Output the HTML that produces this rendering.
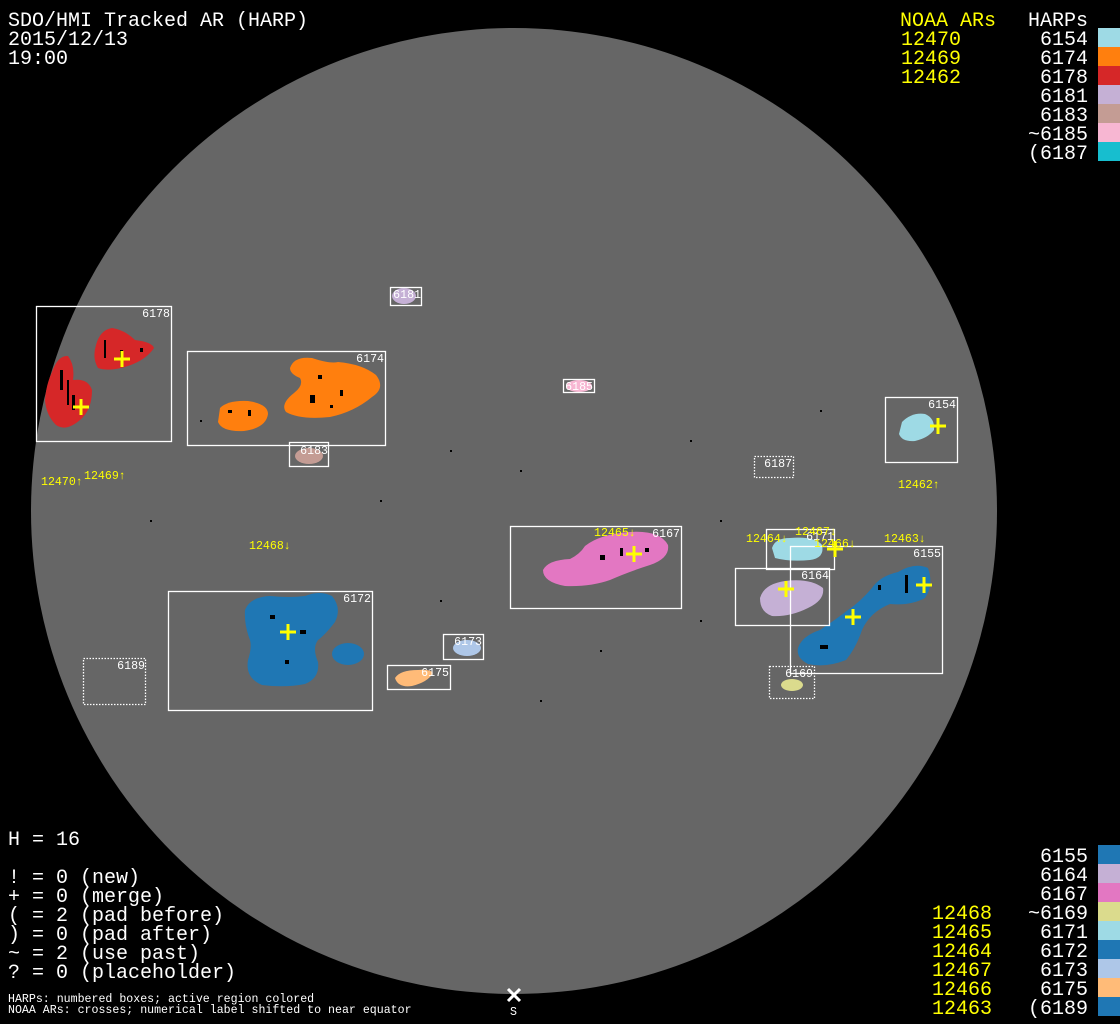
<!DOCTYPE html>
<html><head><meta charset="utf-8"><style>
html,body{margin:0;padding:0;background:#000;}
svg{display:block;}
text{font-family:"Liberation Mono","DejaVu Sans Mono",monospace;}
.t{fill:#fff;font-size:20px;}
.y{fill:#ffff00;font-size:20px;}
.bl{fill:#fff;font-size:11.6px;}
.yl{fill:#ffff00;font-size:11.6px;}
.b{fill:none;stroke:#fff;stroke-width:1.3;}
.d{fill:none;stroke:#fff;stroke-width:1.3;stroke-dasharray:1.5 1.5;}
.c{stroke:#ffff00;stroke-width:3;}
.k{fill:#000;}
</style></head><body>
<svg width="1120" height="1024" viewBox="0 0 1120 1024" xmlns="http://www.w3.org/2000/svg">
<rect width="1120" height="1024" fill="#000"/>
<circle cx="514" cy="511" r="483" fill="#666"/>

<path d="M96 345 Q100 330 112 328 Q125 330 135 340 Q152 342 154 348 Q146 360 128 366 Q110 372 98 368 Q92 358 96 345Z" fill="#d62728"/>
<path d="M52 372 Q58 355 68 356 Q75 365 73 380 Q88 378 92 390 Q92 410 80 420 Q66 432 56 425 Q46 415 45 400 Q46 385 52 372Z" fill="#d62728"/>
<path d="M220 408 Q228 400 248 401 Q268 404 268 414 Q266 428 244 431 Q222 432 218 422 Z" fill="#ff7f0e"/>
<path d="M290 368 Q294 356 312 358 Q330 364 338 362 Q362 364 376 375 Q386 388 372 397 Q354 412 330 417 Q300 420 286 412 Q280 404 294 393 Q304 385 300 378 Q290 374 290 368Z" fill="#ff7f0e"/>
<ellipse cx="309" cy="456" rx="14" ry="8" fill="#c49c94"/>
<ellipse cx="404" cy="296" rx="12" ry="8" fill="#c5b0d5"/>
<ellipse cx="579" cy="386" rx="13" ry="6" fill="#f7b6d2"/>
<path d="M902 422 Q912 412 925 414 Q935 418 934 430 Q928 438 915 441 Q902 442 899 434 Z" fill="#9edae5"/>
<path d="M543 570 Q548 560 570 559 Q580 554 585 546 Q600 534 630 532 Q660 530 668 545 Q670 558 650 565 Q628 572 610 580 Q590 587 565 586 Q543 582 543 570Z" fill="#e377c2"/>
<path d="M772 548 Q775 538 790 538 Q815 536 822 545 Q825 558 810 560 Q790 562 775 558 Z" fill="#9edae5"/>
<path d="M760 598 Q764 584 785 581 Q810 578 823 588 Q825 600 808 608 Q790 617 772 616 Q760 612 760 598Z" fill="#c5b0d5"/>
<path d="M798 648 Q802 636 820 630 Q835 620 848 610 Q860 602 872 588 Q880 576 898 572 Q915 562 928 568 Q934 585 925 598 Q910 606 890 604 Q870 612 862 630 Q856 648 846 660 Q826 668 808 664 Q796 658 798 648Z" fill="#1f77b4"/>
<ellipse cx="792" cy="685" rx="11" ry="6" fill="#dbdb8d"/>
<path d="M245 610 Q250 597 270 596 Q290 598 305 596 Q320 590 332 596 Q342 608 335 622 Q325 635 318 640 Q312 648 318 662 Q320 678 305 684 Q285 688 262 685 Q245 678 248 660 Q252 648 250 640 Q244 625 245 610Z" fill="#1f77b4"/>
<ellipse cx="348" cy="654" rx="16" ry="11" fill="#1f77b4"/>
<ellipse cx="467" cy="648" rx="14" ry="8" fill="#aec7e8"/>
<path d="M395 678 Q400 670 418 670 Q430 669 433 673 Q428 682 412 686 Q398 688 395 678Z" fill="#ffbb78"/>

<g class="k">
<rect x="60" y="370" width="3" height="20"/><rect x="67" y="380" width="2" height="25"/><rect x="72" y="395" width="3" height="15"/>
<rect x="104" y="340" width="2" height="18"/><rect x="120" y="350" width="3" height="8"/><rect x="140" y="348" width="3" height="4"/>
<rect x="228" y="410" width="4" height="3"/><rect x="248" y="410" width="3" height="6"/><rect x="318" y="375" width="4" height="4"/>
<rect x="310" y="395" width="5" height="8"/><rect x="340" y="390" width="3" height="6"/><rect x="330" y="405" width="3" height="3"/>
<rect x="270" y="615" width="5" height="4"/><rect x="300" y="630" width="6" height="4"/><rect x="285" y="660" width="4" height="4"/>
<rect x="600" y="555" width="5" height="5"/><rect x="620" y="548" width="3" height="8"/><rect x="645" y="548" width="4" height="4"/>
<rect x="905" y="575" width="3" height="18"/><rect x="820" y="645" width="8" height="4"/><rect x="878" y="585" width="3" height="5"/>
<rect x="200" y="420" width="2" height="2"/><rect x="450" y="450" width="2" height="2"/><rect x="520" y="470" width="2" height="2"/>
<rect x="700" y="620" width="2" height="2"/><rect x="540" y="700" width="2" height="2"/><rect x="600" y="650" width="2" height="2"/>
<rect x="440" y="600" width="2" height="2"/><rect x="690" y="440" width="2" height="2"/><rect x="820" y="410" width="2" height="2"/>
<rect x="380" y="500" width="2" height="2"/><rect x="150" y="520" width="2" height="2"/><rect x="720" y="520" width="2" height="2"/>
</g>

<rect class="b" x="36.5" y="306.5" width="135" height="135"/>
<rect class="b" x="187.5" y="351.5" width="198" height="94"/>
<rect class="b" x="289.5" y="442.5" width="39" height="24"/>
<rect class="b" x="390.5" y="287.5" width="31" height="18"/>
<rect class="b" x="563.5" y="379.5" width="31" height="13"/>
<rect class="d" x="754.5" y="456.5" width="39" height="21"/>
<rect class="b" x="885.5" y="397.5" width="72" height="65"/>
<rect class="b" x="510.5" y="526.5" width="171" height="82"/>
<rect class="b" x="766.5" y="529.5" width="68" height="40"/>
<rect class="b" x="735.5" y="568.5" width="94" height="57"/>
<rect class="b" x="790.5" y="546.5" width="152" height="127"/>
<rect class="d" x="769.5" y="666.5" width="45" height="32"/>
<rect class="b" x="168.5" y="591.5" width="204" height="119"/>
<rect class="b" x="443.5" y="634.5" width="40" height="25"/>
<rect class="b" x="387.5" y="665.5" width="63" height="24"/>
<rect class="d" x="83.5" y="658.5" width="62" height="46"/>

<g class="bl" text-anchor="end">
<text x="170" y="317">6178</text><text x="384" y="362">6174</text><text x="328" y="454">6183</text>
<text x="421" y="298">6181</text><text x="593" y="390">6185</text><text x="792" y="467">6187</text>
<text x="956" y="408">6154</text><text x="680" y="537">6167</text><text x="834" y="540">6171</text>
<text x="829" y="579">6164</text><text x="941" y="557">6155</text><text x="813" y="677">6169</text>
<text x="371" y="602">6172</text><text x="482" y="645">6173</text><text x="449" y="676">6175</text>
<text x="145" y="669">6189</text>
</g>

<g class="c">
<path d="M114 359h16M122 351v16"/><path d="M73 407h16M81 399v16"/><path d="M626 554h16M634 546v16"/>
<path d="M280 632h16M288 624v16"/><path d="M930 426h16M938 418v16"/><path d="M778 589h16M786 581v16"/>
<path d="M845 617h16M853 609v16"/><path d="M916 585h16M924 577v16"/><path d="M827 549h16M835 541v16"/>
</g>

<g class="yl">
<text x="41" y="485">12470↑</text><text x="84" y="479">12469↑</text><text x="249" y="549">12468↓</text>
<text x="594" y="536">12465↓</text><text x="746" y="542">12464↓</text><text x="795" y="535">12467↓</text>
<text x="814" y="547">12466↓</text><text x="884" y="542">12463↓</text><text x="898" y="488">12462↑</text>
</g>

<text class="t" x="8" y="26">SDO/HMI Tracked AR (HARP)</text>
<text class="t" x="8" y="45">2015/12/13</text>
<text class="t" x="8" y="64">19:00</text>

<text class="y" x="900" y="26">NOAA ARs</text>
<text class="t" x="1028" y="26">HARPs</text>
<g class="y" text-anchor="end">
<text x="961" y="45">12470</text><text x="961" y="64">12469</text><text x="961" y="83">12462</text>
</g>
<g class="t" text-anchor="end">
<text x="1088" y="45">6154</text><text x="1088" y="64">6174</text><text x="1088" y="83">6178</text>
<text x="1088" y="102">6181</text><text x="1088" y="121">6183</text><text x="1088" y="140">~6185</text><text x="1088" y="159">(6187</text>
</g>
<rect x="1098" y="28" width="22" height="19" fill="#9edae5"/>
<rect x="1098" y="47" width="22" height="19" fill="#ff7f0e"/>
<rect x="1098" y="66" width="22" height="19" fill="#d62728"/>
<rect x="1098" y="85" width="22" height="19" fill="#c5b0d5"/>
<rect x="1098" y="104" width="22" height="19" fill="#c49c94"/>
<rect x="1098" y="123" width="22" height="19" fill="#f7b6d2"/>
<rect x="1098" y="142" width="22" height="19" fill="#17becf"/>

<text class="t" x="8" y="845">H = 16</text>
<text class="t" x="8" y="883">! = 0 (new)</text>
<text class="t" x="8" y="902">+ = 0 (merge)</text>
<text class="t" x="8" y="921">( = 2 (pad before)</text>
<text class="t" x="8" y="940">) = 0 (pad after)</text>
<text class="t" x="8" y="959">~ = 2 (use past)</text>
<text class="t" x="8" y="978">? = 0 (placeholder)</text>
<text class="bl" x="8" y="1002">HARPs: numbered boxes; active region colored</text>
<text class="bl" x="8" y="1013">NOAA ARs: crosses; numerical label shifted to near equator</text>

<path d="M508 989l12 12M520 989l-12 12" stroke="#fff" stroke-width="3"/>
<text class="bl" x="510" y="1015">S</text>

<g class="y" text-anchor="end">
<text x="992" y="919">12468</text><text x="992" y="938">12465</text><text x="992" y="957">12464</text>
<text x="992" y="976">12467</text><text x="992" y="995">12466</text><text x="992" y="1014">12463</text>
</g>
<g class="t" text-anchor="end">
<text x="1088" y="862">6155</text><text x="1088" y="881">6164</text><text x="1088" y="900">6167</text>
<text x="1088" y="919">~6169</text><text x="1088" y="938">6171</text><text x="1088" y="957">6172</text>
<text x="1088" y="976">6173</text><text x="1088" y="995">6175</text><text x="1088" y="1014">(6189</text>
</g>
<rect x="1098" y="845" width="22" height="19" fill="#1f77b4"/>
<rect x="1098" y="864" width="22" height="19" fill="#c5b0d5"/>
<rect x="1098" y="883" width="22" height="19" fill="#e377c2"/>
<rect x="1098" y="902" width="22" height="19" fill="#dbdb8d"/>
<rect x="1098" y="921" width="22" height="19" fill="#9edae5"/>
<rect x="1098" y="940" width="22" height="19" fill="#1f77b4"/>
<rect x="1098" y="959" width="22" height="19" fill="#aec7e8"/>
<rect x="1098" y="978" width="22" height="19" fill="#ffbb78"/>
<rect x="1098" y="997" width="22" height="19" fill="#1f77b4"/>
</svg>
</body></html>
